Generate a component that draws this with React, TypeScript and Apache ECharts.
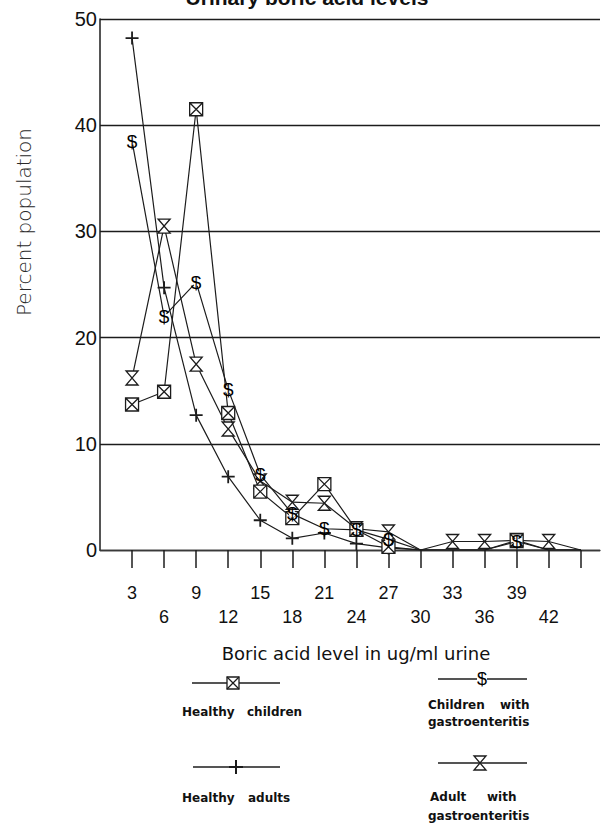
import React, { useEffect, useRef } from "react";
import * as echarts from "echarts";

const titleText = "Urinary boric acid levels";
const xAxisName = "Boric acid level in ug/ml urine";
const yAxisName = "Percent population";

const boricLevels = [3, 6, 9, 12, 15, 18, 21, 24, 27, 30, 33, 36, 39, 42, 45];
const xTickValues = [3, 6, 9, 12, 15, 18, 21, 24, 27, 30, 33, 36, 39, 42, 45];
const xLabelValues = [3, 6, 9, 12, 15, 18, 21, 24, 27, 30, 33, 36, 39, 42];

const healthyChildren = [13.7, 14.9, 41.5, 12.9, 5.5, 3.0, 6.2, 1.9, 0.3, 0, 0, 0, 0.9, 0, 0];
const childrenGastro = [38.5, 22.0, 25.2, 15.1, 7.1, 3.4, 2.0, 1.9, 1.0, 0, 0, 0, 0.8, 0, 0];
const healthyAdults = [48.2, 24.7, 12.7, 6.9, 2.8, 1.1, 1.6, 0.6, 0.2, 0, 0, 0, 0, 0, 0];
const adultGastro = [16.2, 30.5, 17.5, 11.4, 6.5, 4.5, 4.4, 2.0, 1.7, 0, 0.8, 0.8, 0.9, 0.8, 0];

const INK = "#1c1c1c";
const SQUARE_X = "path://M0 0H12V12H0ZM0 0L12 12M12 0L0 12";
const PLUS = "path://M6 0V12M0 6H12";
const HOURGLASS = "path://M0 0L12 0L0 14L12 14Z";

function toData(values: number[]) {
  return values.map((v, i) => {
    const x = boricLevels[i];
    if (v === 0 && x >= 30) return { value: [x, v], symbol: "none" };
    return { value: [x, v] };
  });
}

export default function App() {
  const ref = useRef<HTMLDivElement>(null);
  useEffect(() => {
    if (!ref.current) return;
    const chart = echarts.init(ref.current, null, { renderer: "svg" });
    const lineStyle = { color: INK, width: 1.2 };
    const legendFont = 'bold 12px "DejaVu Sans"';
    const option: any = {
      animation: false,
      backgroundColor: "#fff",
      grid: { left: 100, top: 19, width: 500, height: 531, containLabel: false },
      xAxis: {
        type: "value",
        min: 0,
        max: 46.8,
        interval: 3,
        axisLine: { show: true, onZero: false, lineStyle: { color: "#3a3a3a", width: 1.3 } },
        axisTick: { show: true, length: 18, customValues: xTickValues, lineStyle: { color: INK, width: 1.5 } },
        axisLabel: {
          show: true,
          customValues: xLabelValues,
          margin: 31,
          fontSize: 18,
          lineHeight: 24,
          fontFamily: '"Liberation Sans", Arial, sans-serif',
          color: "#111",
          formatter: (v: number) => ((v / 3) % 2 === 1 ? String(v) : "\n" + v),
        },
        splitLine: { show: false },
      },
      yAxis: {
        type: "value",
        min: 0,
        max: 50,
        interval: 10,
        axisLine: { show: true, lineStyle: { color: INK, width: 1.5 } },
        axisTick: { show: false },
        axisLabel: {
          margin: 3,
          fontSize: 20,
          fontFamily: '"Liberation Sans", Arial, sans-serif',
          color: "#111",
        },
        splitLine: { show: true, lineStyle: { color: INK, width: 1.4 } },
      },
      series: [
        {
          name: "Healthy adults",
          type: "line",
          data: toData(healthyAdults),
          symbol: PLUS,
          symbolSize: 13,
          lineStyle,
          itemStyle: { color: "none", borderColor: INK, borderWidth: 1.8 },
          z: 3,
        },
        {
          name: "Adult with gastroenteritis",
          type: "line",
          data: toData(adultGastro),
          symbol: HOURGLASS,
          symbolSize: [12, 14],
          lineStyle,
          itemStyle: { color: "#fff", borderColor: INK, borderWidth: 1.3 },
          z: 4,
        },
        {
          name: "Healthy children",
          type: "line",
          data: toData(healthyChildren),
          symbol: SQUARE_X,
          symbolSize: 13,
          lineStyle,
          itemStyle: { color: "#fff", borderColor: INK, borderWidth: 1.3 },
          z: 5,
        },
        {
          name: "Children with gastroenteritis",
          type: "line",
          data: toData(childrenGastro),
          symbol: "circle",
          symbolSize: 7,
          lineStyle,
          itemStyle: { color: "#fff", borderWidth: 0 },
          label: {
            show: true,
            position: "inside",
            formatter: "$",
            fontSize: 19,
            fontFamily: '"Liberation Sans", Arial, sans-serif',
            color: "#000",
          },
          z: 6,
        },
      ],
      graphic: [
        {
          type: "text",
          x: 307,
          y: -3,
          style: { text: titleText, font: 'bold 21px "Liberation Sans", Arial, sans-serif', fill: "#111", align: "center", verticalAlign: "middle" },
        },
        {
          type: "text",
          x: 24,
          y: 222,
          rotation: Math.PI / 2,
          style: { text: yAxisName, font: '300 20px "DejaVu Sans", sans-serif', fill: "#2a2a2a", align: "center", verticalAlign: "middle" },
        },
        {
          type: "text",
          x: 356,
          y: 653,
          style: { text: xAxisName, font: '18px "DejaVu Sans", sans-serif', fill: "#111", align: "center", verticalAlign: "middle" },
        },
        // Legend item 1: Healthy children
        { type: "line", shape: { x1: 192, y1: 683, x2: 280, y2: 683 }, style: { stroke: INK, lineWidth: 1.3 } },
        { type: "rect", shape: { x: 227, y: 677, width: 12, height: 12 }, style: { fill: "#fff", stroke: INK, lineWidth: 1.3 } },
        { type: "line", shape: { x1: 227, y1: 677, x2: 239, y2: 689 }, style: { stroke: INK, lineWidth: 1.2 } },
        { type: "line", shape: { x1: 239, y1: 677, x2: 227, y2: 689 }, style: { stroke: INK, lineWidth: 1.2 } },
        { type: "text", x: 182, y: 712, style: { text: "Healthy", font: legendFont, fill: "#111", align: "left", verticalAlign: "middle" } },
        { type: "text", x: 247, y: 712, style: { text: "children", font: legendFont, fill: "#111", align: "left", verticalAlign: "middle" } },
        // Legend item 2: Children with gastroenteritis
        { type: "line", shape: { x1: 438, y1: 679, x2: 527, y2: 679 }, style: { stroke: INK, lineWidth: 1.3 } },
        { type: "text", x: 482, y: 679, style: { text: "$", font: '18px "Liberation Sans", Arial, sans-serif', fill: "#000", align: "center", verticalAlign: "middle", backgroundColor: "#fff" } },
        { type: "text", x: 428, y: 705, style: { text: "Children", font: legendFont, fill: "#111", align: "left", verticalAlign: "middle" } },
        { type: "text", x: 500, y: 705, style: { text: "with", font: legendFont, fill: "#111", align: "left", verticalAlign: "middle" } },
        { type: "text", x: 428, y: 722, style: { text: "gastroenteritis", font: legendFont, fill: "#111", align: "left", verticalAlign: "middle" } },
        // Legend item 3: Healthy adults
        { type: "line", shape: { x1: 193, y1: 767, x2: 280, y2: 767 }, style: { stroke: INK, lineWidth: 1.3 } },
        { type: "line", shape: { x1: 236, y1: 760, x2: 236, y2: 774 }, style: { stroke: INK, lineWidth: 2 } },
        { type: "line", shape: { x1: 229, y1: 767, x2: 243, y2: 767 }, style: { stroke: INK, lineWidth: 2 } },
        { type: "text", x: 182, y: 798, style: { text: "Healthy", font: legendFont, fill: "#111", align: "left", verticalAlign: "middle" } },
        { type: "text", x: 248, y: 798, style: { text: "adults", font: legendFont, fill: "#111", align: "left", verticalAlign: "middle" } },
        // Legend item 4: Adult with gastroenteritis
        { type: "line", shape: { x1: 438, y1: 763, x2: 527, y2: 763 }, style: { stroke: INK, lineWidth: 1.3 } },
        { type: "polygon", shape: { points: [[474, 756], [486, 756], [474, 770], [486, 770]] }, style: { fill: "#fff", stroke: INK, lineWidth: 1.3 } },
        { type: "text", x: 430, y: 797, style: { text: "Adult", font: legendFont, fill: "#111", align: "left", verticalAlign: "middle" } },
        { type: "text", x: 487, y: 797, style: { text: "with", font: legendFont, fill: "#111", align: "left", verticalAlign: "middle" } },
        { type: "text", x: 428, y: 816, style: { text: "gastroenteritis", font: legendFont, fill: "#111", align: "left", verticalAlign: "middle" } },
      ],
    };
    chart.setOption(option);
    return () => chart.dispose();
  }, []);
  return (
    <div
      ref={ref}
      style={{ position: "fixed", left: 0, top: 0, width: 602, height: 824, background: "#fff" }}
    />
  );
}
